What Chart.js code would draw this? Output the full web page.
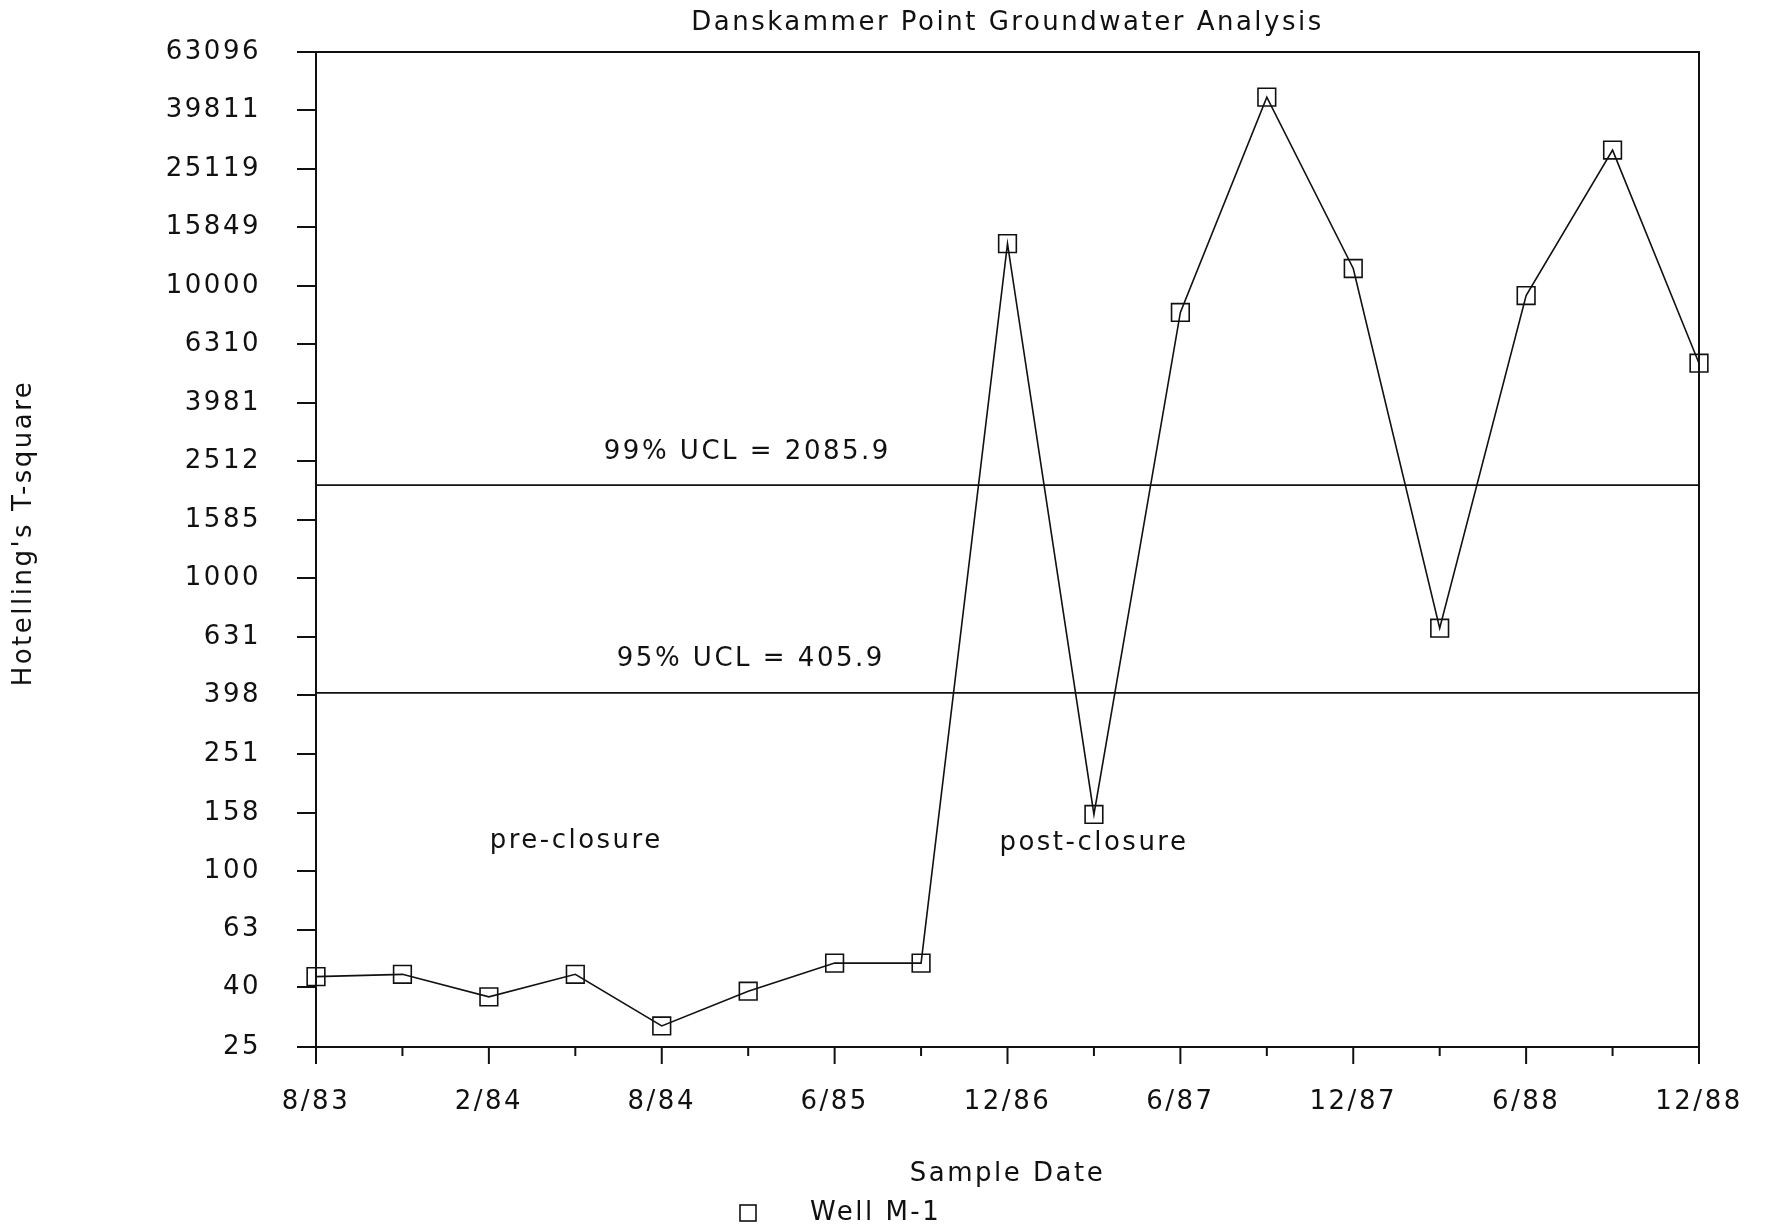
<!DOCTYPE html>
<html>
<head>
<meta charset="utf-8">
<title>Danskammer Point Groundwater Analysis</title>
<script src="https://cdn.jsdelivr.net/npm/chart.js@4.4.1/dist/chart.umd.min.js"></script>
<style>
  html, body { margin: 0; padding: 0; background: #fff; overflow: hidden; }
  canvas { display: block; }
</style>
</head>
<body>
<canvas id="chart" width="1769" height="1229"></canvas>
<script>
// Sample dates (only every other sample is labelled on the axis)
const sampleDates = ['8/83', '', '2/84', '', '8/84', '', '6/85', '', '12/86', '', '6/87', '', '12/87', '', '6/88', '', '12/88'];

// Hotelling's T-square, Well M-1
const wellM1 = [43.5, 44.3, 37.1, 44.3, 29.5, 38.8, 48.4, 48.4, 13960, 156, 8118, 44230, 11475, 676, 9276, 29150, 5445];

// y axis ticks (log spaced)
const yTicks = [25, 40, 63, 100, 158, 251, 398, 631, 1000, 1585, 2512, 3981, 6310, 10000, 15849, 25119, 39811, 63096];

// control limits
const uclValues = [2085.9, 405.9];

// notes on the plot: text, category index, value
const noteText = ['99% UCL = 2085.9', '95% UCL = 405.9', 'pre-closure', 'post-closure'];
const noteIndex = [4.99, 5.03, 3.01, 9.0];
const noteValue = [2708, 530, 126, 124];

const FONT = "'DejaVu Sans', sans-serif";
const FSIZE = 26;
const SPACING = '2.5px';   // the original plotter font is very wide
const INK = '#111';

// draws the UCL lines, frame, x ticks, titles, notes and legend
const extras = {
  id: 'extras',
  beforeDraw(chart) {
    chart.ctx.letterSpacing = SPACING;
  },
  beforeDatasetsDraw(chart) {
    const { ctx, chartArea: a, scales: { y } } = chart;
    ctx.save();
    ctx.strokeStyle = INK;
    ctx.lineWidth = 1.8;
    uclValues.forEach(v => {
      const py = y.getPixelForValue(v);
      ctx.beginPath();
      ctx.moveTo(a.left, py);
      ctx.lineTo(a.right, py);
      ctx.stroke();
    });
    ctx.restore();
  },
  afterDraw(chart) {
    const { ctx, chartArea: a, scales: { x, y } } = chart;
    ctx.save();
    ctx.letterSpacing = SPACING;
    ctx.strokeStyle = INK;
    ctx.lineWidth = 2;
    ctx.strokeRect(a.left, a.top, a.right - a.left, a.bottom - a.top);

    // x ticks: long under labelled dates, short otherwise
    x.ticks.forEach((t, i) => {
      const px = x.getPixelForTick(i);
      ctx.beginPath();
      ctx.moveTo(px, a.bottom);
      ctx.lineTo(px, a.bottom + (i % 2 ? 9 : 17));
      ctx.stroke();
    });

    ctx.fillStyle = INK;
    ctx.font = FSIZE + 'px ' + FONT;
    ctx.textAlign = 'center';
    ctx.textBaseline = 'middle';

    // chart title, centred over the plot
    ctx.fillText('Danskammer Point Groundwater Analysis', (a.left + a.right) / 2, 23);

    // notes
    noteText.forEach((s, i) => {
      ctx.fillText(s, x.getPixelForValue(noteIndex[i]), y.getPixelForValue(noteValue[i]));
    });

    // y axis title
    ctx.save();
    ctx.translate(24, 533);
    ctx.rotate(-Math.PI / 2);
    ctx.fillText("Hotelling's T-square", 0, 0);
    ctx.restore();

    // legend
    const ds = chart.data.datasets[0];
    ctx.lineWidth = 1.6;
    ctx.strokeRect(740, 1205, 16, 16);
    ctx.textAlign = 'left';
    ctx.fillText(ds.label, 810, 1213);
    ctx.restore();
  }
};

new Chart(document.getElementById('chart'), {
  type: 'line',
  data: {
    labels: sampleDates,
    datasets: [{
      label: 'Well M-1',
      data: wellM1,
      borderColor: INK,
      borderWidth: 1.6,
      tension: 0,
      fill: false,
      pointStyle: 'rect',
      pointRadius: 12.5,
      pointBorderWidth: 1.6,
      pointBorderColor: INK,
      pointBackgroundColor: 'rgba(0,0,0,0)'
    }]
  },
  options: {
    responsive: false,
    animation: false,
    layout: { padding: { left: 0, right: 70, top: 52, bottom: 0 } },
    plugins: {
      legend: { display: false },
      tooltip: { enabled: false },
      title: { display: false }
    },
    scales: {
      x: {
        type: 'category',
        offset: false,
        // invisible tick marks just push the labels down; real ticks are drawn in extras
        grid: { display: true, drawOnChartArea: false, drawTicks: true, tickLength: 37, tickColor: 'rgba(0,0,0,0)' },
        border: { display: false },
        ticks: {
          autoSkip: false,
          maxRotation: 0,
          padding: 3,
          color: INK,
          font: { family: FONT, size: FSIZE }
        },
        title: {
          display: true,
          text: 'Sample Date',
          color: INK,
          font: { family: FONT, size: FSIZE },
          padding: { top: 0, bottom: 39 }
        },
        afterFit: s => { s.height = 182; }
      },
      y: {
        type: 'logarithmic',
        min: 25,
        max: 63096,
        afterBuildTicks: s => { s.ticks = yTicks.map(v => ({ value: v })); },
        grid: { drawOnChartArea: false, tickLength: 19, color: INK, lineWidth: 2 },
        border: { display: false },
        ticks: {
          callback: (v, i) => String(yTicks[i]),
          padding: 36,
          color: INK,
          font: { family: FONT, size: FSIZE }
        },
        afterFit: s => { s.width = 316; }
      }
    }
  },
  plugins: [extras]
});
</script>
</body>
</html>
